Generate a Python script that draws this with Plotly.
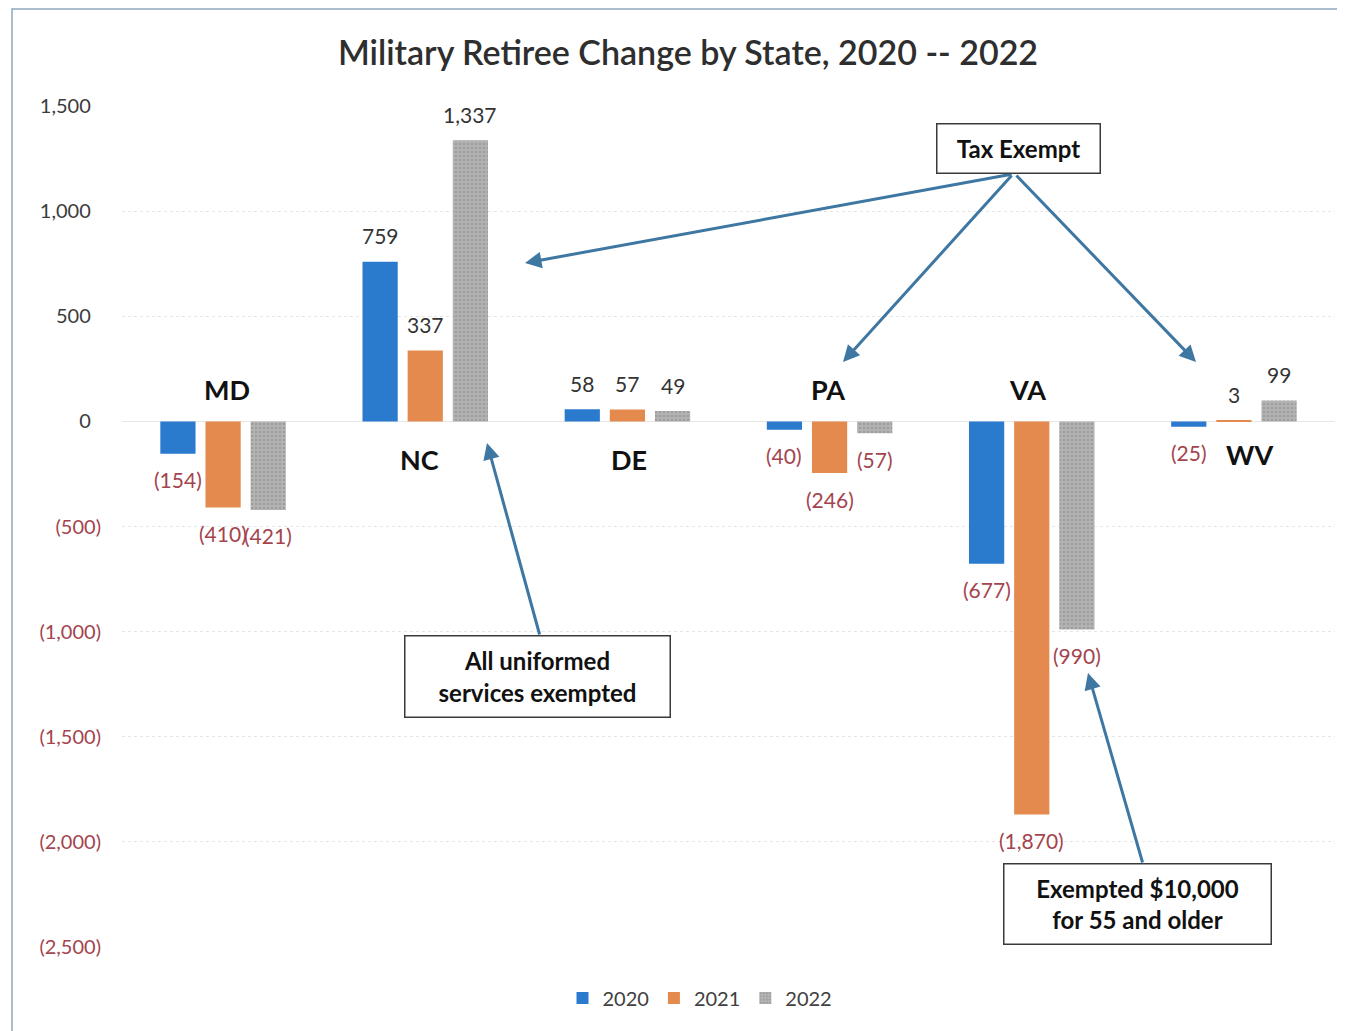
import plotly.graph_objects as go

# ---------------- data ----------------
states = ["MD", "NC", "DE", "PA", "VA", "WV"]
years = ["2020", "2021", "2022"]
v2020 = [-154, 759, 58, -40, -677, -25]
v2021 = [-410, 337, 57, -246, -1870, 3]
v2022 = [-421, 1337, 49, -57, -990, 99]
tick_vals = [1500, 1000, 500, 0, -500, -1000, -1500, -2000, -2500]
tick_text = ["1,500", "1,000", "500", "0", "(500)", "(1,000)", "(1,500)", "(2,000)", "(2,500)"]
title_text = "Military Retiree Change by State, 2020 -- 2022"
notes = ["Tax Exempt", "All uniformed<br>services exempted", "Exempted $10,000<br>for 55 and older"]

# ---------------- style ----------------
FONT = "Lato, Carlito, 'Open Sans', sans-serif"
colors = ["#2a7ace", "#e48a4e", "#ababab"]
POS_COL = "#333333"
NEG_COL = "#a3444e"
ARROW = "#3f77a3"
OFF = 8                      # page body margin
W, H = 1345 - OFF, 1031 - OFF
# plot area in window pixels
L, R, T, B = 122, 1335, 106, 947

def xp(px):
    return (px - L) / (R - L)

def yp(py):
    return (B - py) / (B - T)

def fmt(v):
    return f"({abs(v):,})" if v < 0 else f"{v:,}"

fig = go.Figure()
series = [v2020, v2021, v2022]
for i, (yr, vals) in enumerate(zip(years, series)):
    marker = dict(color=colors[i], line=dict(width=0))
    if i == 2:
        marker["pattern"] = dict(shape=".", fgcolor="#8a8a8a", bgcolor="#b3b3b3", size=4, solidity=0.35)
    fig.add_trace(go.Bar(x=states, y=vals, name=yr, marker=marker, hoverinfo="x+y"))

annotations = []
# value labels
slot = (R - L) / len(states) * (1 - 0.33) / 3
for i, vals in enumerate(series):
    for s, v in zip(states, vals):
        annotations.append(dict(
            x=s, y=v, xref="x", yref="y", text=fmt(v), showarrow=False,
            xshift=(i - 1) * slot, yshift=26 if v >= 0 else -26,
            font=dict(family=FONT, size=21, color=POS_COL if v >= 0 else NEG_COL),
        ))

# category labels (placement style per state)
cat_offsets = {"MD": (4, 32), "NC": (-6, -38), "DE": (2, -38), "PA": (-2, 32), "VA": (-4, 32), "WV": (16, -33)}
for s in states:
    dx, dy = cat_offsets[s]
    annotations.append(dict(
        x=s, y=0, xref="x", yref="y", text=f"<b>{s}</b>", showarrow=False,
        xshift=dx, yshift=dy, font=dict(family=FONT, size=27, color="#111111"),
    ))

# arrows: (head px, tail px)
arrows = [((525, 263), (1013, 174)),
          ((843, 362), (1013, 174)),
          ((1196, 362), (1015, 174)),
          ((487, 443), (540, 636)),
          ((1088, 673), (1143, 864))]
for (hx, hy), (tx, ty) in arrows:
    annotations.append(dict(
        x=xp(hx), y=yp(hy), xref="paper", yref="paper", text="", showarrow=True,
        ax=tx - hx, ay=ty - hy, axref="pixel", ayref="pixel",
        arrowhead=2, arrowsize=1.1, arrowwidth=3, arrowcolor=ARROW, standoff=0,
    ))

# note boxes: (center px, width, height)
boxes = [((1018, 149), 160, 46), ((537, 676), 262, 78), ((1137, 904), 264, 77)]
for txt, ((cx, cy), bw, bh) in zip(notes, boxes):
    annotations.append(dict(
        x=xp(cx), y=yp(cy), xref="paper", yref="paper", text=f"<b>{txt}</b>",
        showarrow=False, xanchor="center", yanchor="middle",
        width=bw, height=bh, borderpad=1, bordercolor="#3a3a3a", borderwidth=1.5,
        bgcolor="white", font=dict(family=FONT, size=24, color="#111111"),
    ))

# tick labels coloured like Excel's red negatives
ttext = []
for v, t in zip(tick_vals, tick_text):
    if v < 0:
        ttext.append(f"<span style='color:{NEG_COL}'>{t}</span>")
    else:
        ttext.append(t + "\u00a0\u00a0")

fig.update_layout(
    width=W, height=H,
    margin=dict(l=L - OFF, r=W - (R - OFF), t=T - OFF, b=H - (B - OFF), pad=0),
    paper_bgcolor="white", plot_bgcolor="white",
    barmode="group", bargap=0.33, bargroupgap=0.22,
    title=dict(text=title_text, x=(688 - OFF) / W, y=1 - (53 - OFF) / H, xanchor="center", yanchor="middle",
               font=dict(family=FONT, size=34, color="#2e2e2e", weight=600)),
    showlegend=True,
    legend=dict(orientation="h", x=xp(700), y=yp(998), xanchor="center", yanchor="middle",
                font=dict(family=FONT, size=20, color="#404040"), itemwidth=30,
                bgcolor="rgba(0,0,0,0)", traceorder="normal"),
    annotations=annotations,
    shapes=[dict(type="rect", xref="paper", yref="paper",
                 x0=xp(12), x1=xp(1360), y0=yp(1045), y1=yp(9),
                 line=dict(color="#8fa6bf", width=1.5), fillcolor="rgba(0,0,0,0)", layer="below")],
    font=dict(family=FONT),
)
fig.update_xaxes(showticklabels=False, showgrid=False, zeroline=False, showline=False, ticks="")
fig.update_yaxes(range=[-2500, 1500], tickvals=tick_vals, ticktext=ttext, ticks="",
                 tickfont=dict(family=FONT, size=20, color="#3c3c3c"), ticklabelstandoff=20,
                 showgrid=True, gridcolor="#e6e6e6", griddash="dot", gridwidth=1,
                 zeroline=True, zerolinecolor="#e6e6e6", zerolinewidth=1, showline=False)

fig.write_html("out.html")
